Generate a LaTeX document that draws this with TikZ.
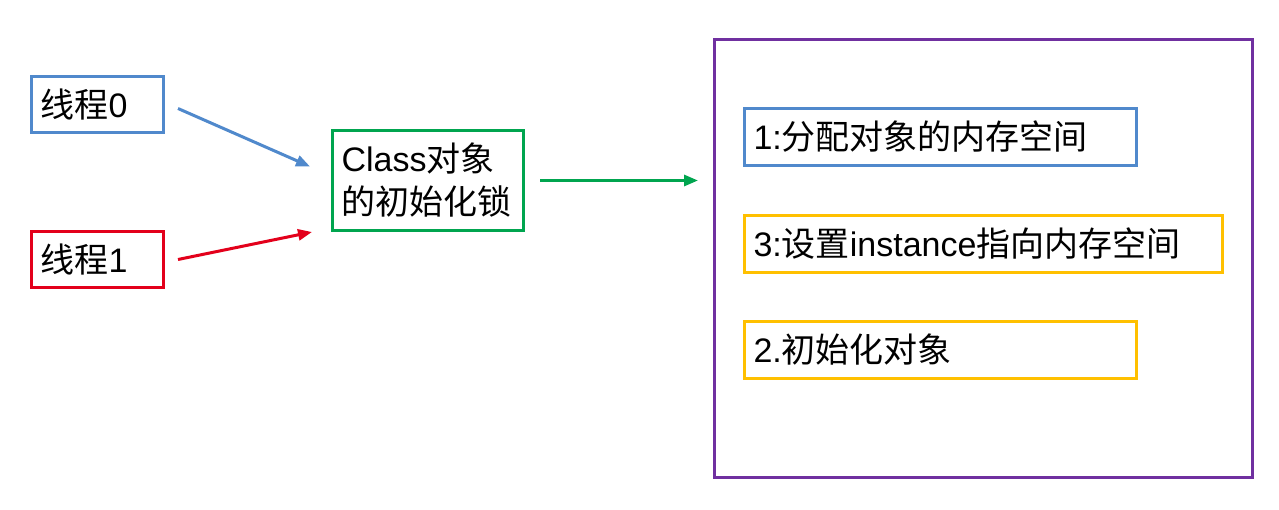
\documentclass[tikz,border=0pt]{standalone}
\usepackage{fontspec}
\setmainfont{Liberation Sans}
\newfontfamily\cjk{Noto Sans CJK SC}
\usetikzlibrary{arrows.meta}
\definecolor{cblue}{HTML}{5089CC}
\definecolor{cred}{HTML}{E3001B}
\definecolor{cgreen}{HTML}{00A54F}
\definecolor{cpurple}{HTML}{7030A0}
\definecolor{corange}{HTML}{FFC000}
\tikzset{
  box/.style={draw, line width=3pt, anchor=north west, inner xsep=9pt, inner ysep=0pt,
    align=left, font=\fontsize{34}{43}\selectfont},
  conn/.style={line width=3pt, -{Triangle[length=14pt,width=11pt]}},
}
\begin{document}
\begin{tikzpicture}[x=1pt,y=-1pt]
\useasboundingbox[fill=white] (0,0) rectangle (1279,510);
\node[box, draw=cblue, minimum width=132, minimum height=56, text width=114] (t0) at (30,75) {{\cjk 线程}0};
\node[box, draw=cred, minimum width=132, minimum height=56, text width=114] (t1) at (30,230) {{\cjk 线程}1};
\node[box, draw=cgreen, minimum width=191, minimum height=100, text width=173] (cls) at (331,129) {Class{\cjk 对象}\\{\cjk 的初始化锁}};
\node[draw=cpurple, line width=3pt, anchor=north west, minimum width=538, minimum height=438, inner sep=0pt] (frame) at (713,38) {};
\node[box, draw=cblue, minimum width=392, minimum height=57, text width=374] (s1) at (743,107) {1:{\cjk 分配对象的内存空间}};
\node[box, draw=corange, minimum width=478, minimum height=57, text width=460] (s3) at (743,214) {3:{\cjk 设置}instance{\cjk 指向内存空间}};
\node[box, draw=corange, minimum width=392, minimum height=57, text width=374] (s2) at (743,320) {2.{\cjk 初始化对象}};
\draw[conn, cblue] ([xshift=13pt,yshift=-4pt]t0.east) -- ([xshift=-21pt,yshift=14pt]cls.west);
\draw[conn, cred] ([xshift=13pt]t1.east) -- ([xshift=-19pt]cls.south west);
\draw[conn, cgreen, shorten <=15pt, shorten >=15pt] (cls.east) -- (cls.east -| frame.west);
\end{tikzpicture}
\end{document}
